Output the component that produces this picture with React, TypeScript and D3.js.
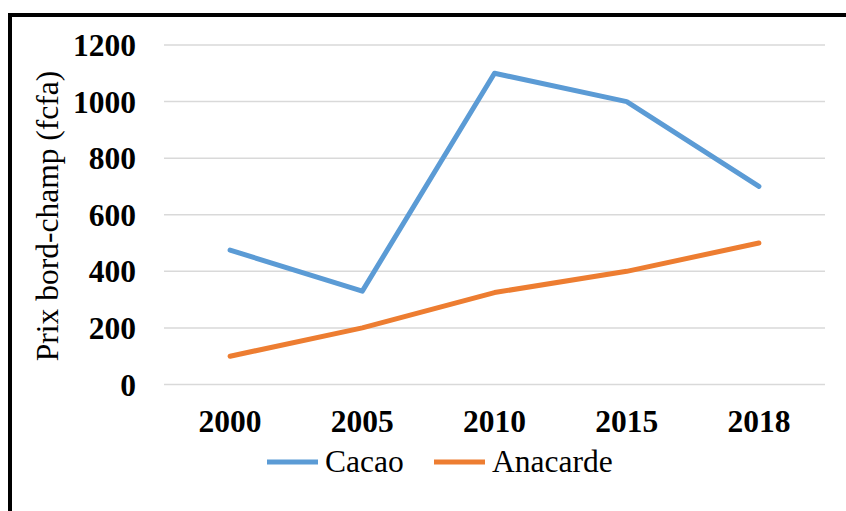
import React from "react";
import * as d3 from "d3";

const years = ["2000", "2005", "2010", "2015", "2018"];
const cacao = [475, 330, 1100, 1000, 700];
const anacarde = [100, 200, 325, 400, 500];
const yTicks = [0, 200, 400, 600, 800, 1000, 1200];
const seriesNames = ["Cacao", "Anacarde"];
const colors = ["#5B9BD5", "#ED7D31"];

const W = 846;
const H = 511;
const FONT = "'Liberation Serif', 'Times New Roman', serif";

export default function App() {
  const x = d3.scaleBand<string>().domain(years).range([164, 825]);
  const y = d3.scaleLinear().domain([0, 1200]).range([384.5, 45]);
  const line = d3
    .line<number>()
    .x((_, i) => (x(years[i]) as number) + x.bandwidth() / 2)
    .y((d) => y(d));
  const series = [cacao, anacarde];

  const legendItems = [
    { x0: 267, tx: 325 },
    { x0: 434, tx: 492 },
  ];

  return (
    <svg
      width={W}
      height={H}
      style={{ position: "absolute", left: 0, top: 0, background: "#fff" }}
    >
      <rect x={0} y={0} width={W} height={H} fill="#fff" />
      <rect x={10} y={15} width={1000} height={1000} fill="none" stroke="#000" strokeWidth={4} />
      {yTicks.map((t) => (
        <g key={t}>
          <line x1={164} x2={825} y1={y(t)} y2={y(t)} stroke="#d9d9d9" strokeWidth={1.5} />
          <text
            x={136}
            y={y(t)}
            dy="0.35em"
            textAnchor="end"
            fontFamily={FONT}
            fontWeight="bold"
            fontSize={31.5}
          >
            {t}
          </text>
        </g>
      ))}
      {years.map((yr) => (
        <text
          key={yr}
          x={(x(yr) as number) + x.bandwidth() / 2}
          y={432}
          textAnchor="middle"
          fontFamily={FONT}
          fontWeight="bold"
          fontSize={31.5}
        >
          {yr}
        </text>
      ))}
      <text
        transform={`translate(58, 216) rotate(-90)`}
        textAnchor="middle"
        fontFamily={FONT}
        fontSize={31.5}
      >
        Prix bord-champ (fcfa)
      </text>
      {series.map((s, i) => (
        <path
          key={i}
          d={line(s) as string}
          fill="none"
          stroke={colors[i]}
          strokeWidth={5}
          strokeLinejoin="round"
          strokeLinecap="round"
        />
      ))}
      {seriesNames.map((n, i) => (
        <g key={n}>
          <line
            x1={legendItems[i].x0}
            x2={legendItems[i].x0 + 51}
            y1={462}
            y2={462}
            stroke={colors[i]}
            strokeWidth={5}
          />
          <text
            x={legendItems[i].tx}
            y={472}
            fontFamily={FONT}
            fontSize={31.5}
          >
            {n}
          </text>
        </g>
      ))}
    </svg>
  );
}
